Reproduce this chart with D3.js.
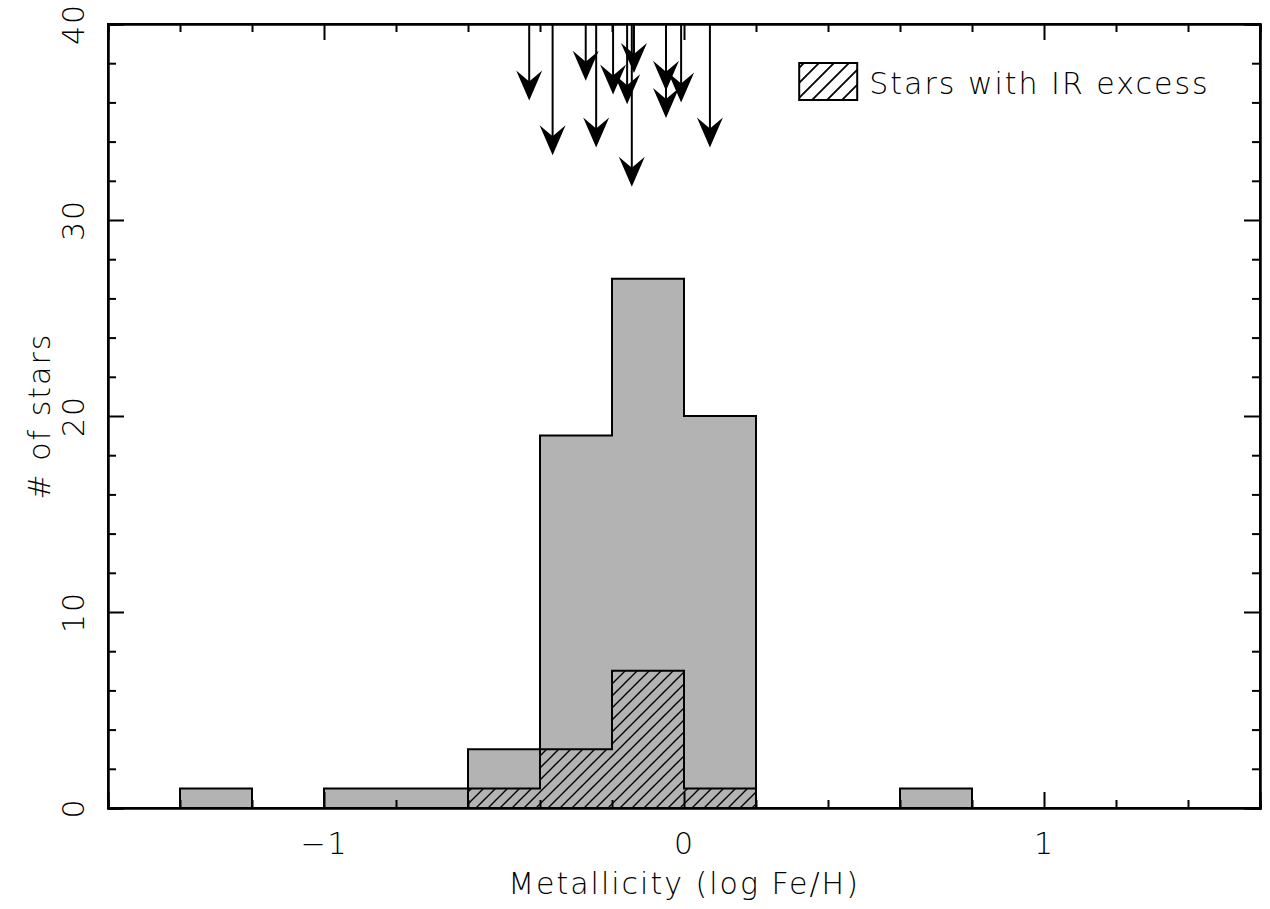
<!DOCTYPE html>
<html>
<head>
<meta charset="utf-8">
<script src="https://cdn.jsdelivr.net/npm/d3@7"></script>
<style>
  body { margin: 0; background: #fff; }
  text { font-family: "DejaVu Sans", sans-serif; font-weight: 200; fill: #000; letter-spacing: 2px; }
</style>
</head>
<body>
<div id="chart"></div>
<script>
// bin edges (metallicity) and counts
var binStart = -1.4;
var binWidth = 0.2;
var allCounts = [1, 0, 1, 1, 3, 19, 27, 20, 0, 0, 1];
var irStart = -0.6;
var irCounts = [1, 3, 7, 1];

// arrows: metallicity and where the tip ends (in # of stars)
var arrowFeH = [-0.430, -0.365, -0.273, -0.244, -0.197, -0.158, -0.145, -0.139, -0.050, -0.050, -0.008, 0.072];
var arrowTip = [36.1, 33.3, 37.1, 33.7, 36.4, 35.9, 31.7, 37.5, 36.6, 35.2, 36.0, 33.7];

var xMajor = [-1, 0, 1];
var yMajor = [0, 10, 20, 30, 40];

const gray = "#b3b3b3";
const fontSize = 30;

const margin = { top: 24, right: 10, bottom: 101, left: 108 },
    width = 1270 - margin.left - margin.right,
    height = 909 - margin.top - margin.bottom;

const svg = d3.select("#chart").append("svg")
    .attr("width", width + margin.left + margin.right)
    .attr("height", height + margin.top + margin.bottom);

const g = svg.append("g")
    .attr("transform", `translate(${margin.left}, ${margin.top})`);

const x = d3.scaleLinear().domain([-1.6, 1.6]).range([0, width]);
const y = d3.scaleLinear().domain([0, 40]).range([height, 0]);

// hatch patterns
const defs = svg.append("defs");
function hatch(id, s, bg, sw) {
    const p = defs.append("pattern")
        .attr("id", id)
        .attr("patternUnits", "userSpaceOnUse")
        .attr("width", s).attr("height", s);
    p.append("rect").attr("width", s).attr("height", s).attr("fill", bg);
    p.append("path")
        .attr("d", `M-1,1 l2,-2 M0,${s} l${s},${-s} M${s - 1},${s + 1} l2,-2`)
        .attr("stroke", "#000").attr("stroke-width", sw);
}
hatch("hatchHist", 12, gray, 1.4);
hatch("hatchLegend", 15, "#fff", 1.8);

// step outline points for a histogram
function stepPoints(start, counts) {
    var pts = [[start, 0]];
    counts.forEach(function (c, i) {
        pts.push([start + i * binWidth, c]);
        pts.push([start + (i + 1) * binWidth, c]);
    });
    pts.push([start + counts.length * binWidth, 0]);
    return pts;
}
const stepLine = d3.line().x(d => x(d[0])).y(d => y(d[1]));

g.append("path")
    .attr("d", stepLine(stepPoints(binStart, allCounts)))
    .attr("fill", gray)
    .attr("stroke", "#000")
    .attr("stroke-width", 2);

g.append("path")
    .attr("d", stepLine(stepPoints(irStart, irCounts)))
    .attr("fill", "url(#hatchHist)")
    .attr("stroke", "#000")
    .attr("stroke-width", 2);

// arrows from top
arrowFeH.forEach(function (m, i) {
    const ax = x(m), ay = y(arrowTip[i]);
    g.append("line")
        .attr("x1", ax).attr("x2", ax)
        .attr("y1", y(40)).attr("y2", ay - 10)
        .attr("stroke", "#000").attr("stroke-width", 2);
    g.append("path")
        .attr("d", `M${ax},${ay} L${ax - 13},${ay - 30} L${ax},${ay - 19} L${ax + 13},${ay - 30} Z`)
        .attr("fill", "#000");
});

// axes with inward ticks on all sides
const xMinor = d3.range(-1.6, 1.61, 0.2).filter(v => Math.abs(v - Math.round(v)) > 0.01);
const yMinor = d3.range(0, 41, 2).filter(v => v % 10 != 0);

g.append("g").attr("transform", `translate(0, ${height})`)
    .call(d3.axisBottom(x).tickValues(xMajor).tickSize(-16).tickPadding(20).tickFormat(d => d < 0 ? "\u2212" + Math.abs(d) : d));
g.append("g").attr("transform", `translate(0, ${height})`)
    .call(d3.axisBottom(x).tickValues(xMinor).tickSize(-8).tickFormat(""));
g.append("g")
    .call(d3.axisTop(x).tickValues(xMajor).tickSize(-16).tickFormat(""));
g.append("g")
    .call(d3.axisTop(x).tickValues(xMinor).tickSize(-8).tickFormat(""));
g.append("g")
    .call(d3.axisLeft(y).tickValues(yMajor).tickSize(-16).tickFormat(""));
g.append("g")
    .call(d3.axisLeft(y).tickValues(yMinor).tickSize(-8).tickFormat(""));
g.append("g").attr("transform", `translate(${width}, 0)`)
    .call(d3.axisRight(y).tickValues(yMajor).tickSize(-16).tickFormat(""));
g.append("g").attr("transform", `translate(${width}, 0)`)
    .call(d3.axisRight(y).tickValues(yMinor).tickSize(-8).tickFormat(""));

g.selectAll(".domain").attr("stroke", "#000").attr("stroke-width", 2);
g.selectAll(".tick line").attr("stroke", "#000").attr("stroke-width", 2);
g.selectAll(".tick text")
    .style("font-family", "DejaVu Sans")
    .style("font-weight", 200)
    .style("font-size", fontSize + "px")
    .attr("dy", "0.85em");

// y tick labels, rotated
yMajor.forEach(function (v) {
    g.append("text")
        .attr("transform", `translate(-24, ${y(v)}) rotate(-90)`)
        .attr("text-anchor", "middle")
        .style("font-size", fontSize + "px")
        .text(v);
});

// frame
g.append("rect")
    .attr("width", width).attr("height", height)
    .attr("fill", "none").attr("stroke", "#000").attr("stroke-width", 2);

// axis titles
g.append("text")
    .attr("x", x(0)).attr("y", height + 86)
    .attr("text-anchor", "middle")
    .style("font-size", fontSize + "px")
    .text("Metallicity (log Fe/H)");
g.append("text")
    .attr("transform", `translate(-58, ${y(20)}) rotate(-90)`)
    .attr("text-anchor", "middle")
    .style("font-size", fontSize + "px")
    .text("# of stars");

// legend
g.append("rect")
    .attr("x", x(0.32)).attr("y", 39)
    .attr("width", 58).attr("height", 37)
    .attr("fill", "url(#hatchLegend)")
    .attr("stroke", "#000").attr("stroke-width", 2);
g.append("text")
    .attr("x", x(0.32) + 70).attr("y", 70)
    .style("font-size", fontSize + "px")
    .text("Stars with IR excess");
</script>
</body>
</html>
